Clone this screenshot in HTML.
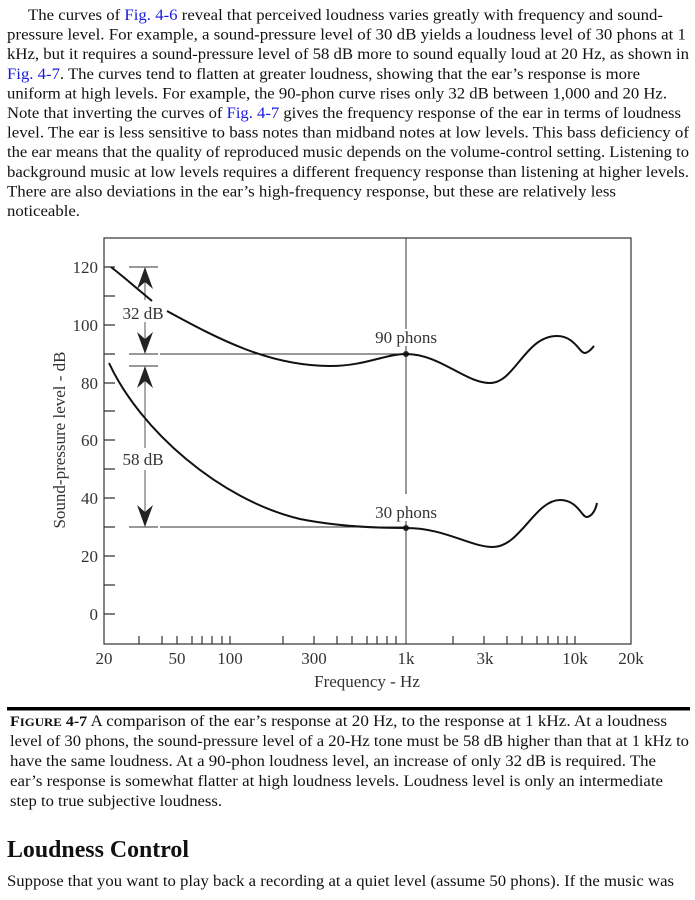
<!DOCTYPE html>
<html><head><meta charset="utf-8"><style>
html,body{margin:0;padding:0;background:#fff;}
svg{display:block;}
.t{font-family:"Liberation Serif",serif;font-size:16px;fill:#111;}
.b{fill:#1a1adb;}
.c{font-family:"Liberation Serif",serif;font-size:17px;fill:#333;}
</style></head><body>
<svg width="695" height="900" viewBox="0 0 695 900" xmlns="http://www.w3.org/2000/svg">
<g class="t">
<text x="28" y="20" textLength="635" lengthAdjust="spacingAndGlyphs">The curves of <tspan class="b">Fig. 4-6</tspan> reveal that perceived loudness varies greatly with frequency and sound-</text>
<text x="7" y="39.6" textLength="679" lengthAdjust="spacingAndGlyphs">pressure level. For example, a sound-pressure level of 30 dB yields a loudness level of 30 phons at 1</text>
<text x="7" y="59.2" textLength="682" lengthAdjust="spacingAndGlyphs">kHz, but it requires a sound-pressure level of 58 dB more to sound equally loud at 20 Hz, as shown in</text>
<text x="7" y="78.8" textLength="633" lengthAdjust="spacingAndGlyphs"><tspan class="b">Fig. 4-7</tspan>. The curves tend to flatten at greater loudness, showing that the ear’s response is more</text>
<text x="7" y="98.4" textLength="660" lengthAdjust="spacingAndGlyphs">uniform at high levels. For example, the 90-phon curve rises only 32 dB between 1,000 and 20 Hz.</text>
<text x="7" y="118" textLength="674" lengthAdjust="spacingAndGlyphs">Note that inverting the curves of <tspan class="b">Fig. 4-7</tspan> gives the frequency response of the ear in terms of loudness</text>
<text x="7" y="137.6" textLength="682" lengthAdjust="spacingAndGlyphs">level. The ear is less sensitive to bass notes than midband notes at low levels. This bass deficiency of</text>
<text x="7" y="157.2" textLength="682" lengthAdjust="spacingAndGlyphs">the ear means that the quality of reproduced music depends on the volume-control setting. Listening to</text>
<text x="7" y="176.8" textLength="682" lengthAdjust="spacingAndGlyphs">background music at low levels requires a different frequency response than listening at higher levels.</text>
<text x="7" y="196.4" textLength="609" lengthAdjust="spacingAndGlyphs">There are also deviations in the ear’s high-frequency response, but these are relatively less</text>
<text x="7" y="216" textLength="73" lengthAdjust="spacingAndGlyphs">noticeable.</text>
</g>

<g stroke="#333" fill="none" stroke-width="1.2">
<rect x="104" y="238" width="527" height="406"/>
<path d="M104 267H115M104 296H115M104 325H115M104 354H115M104 383H115M104 411H115M104 440H115M104 469H115M104 498H115M104 527H115M104 556H115M104 585H115M104 614H115"/>
<path d="M139 644v-8M162 644v-8M177 644v-8M192 644v-8M202 644v-8M212 644v-8M222 644v-8M230 644v-8M283 644v-8M314 644v-8M337 644v-8M352 644v-8M367 644v-8M377 644v-8M387 644v-8M396 644v-8M453 644v-8M484 644v-8M507 644v-8M522 644v-8M537 644v-8M548 644v-8M558 644v-8M567 644v-8M575 644v-8"/>
<path d="M406 238V329M406 346V494M406 521V644" stroke-width="1"/>
<path d="M129 354H158M160 354H406M129 527H158M160 527H406M129 267H158M129 366H158" stroke-width="1"/>
<path d="M145 282V300M145 322V340M145 380V448M145 470V512" stroke="#555" stroke-width="1"/>
</g>
<g fill="#222">
<path d="M145 267 L137 289 L145 282 L153 289 Z"/>
<path d="M145 354 L137 332 L145 339 L153 332 Z"/>
<path d="M145 366 L137 388 L145 381 L153 388 Z"/>
<path d="M145 527 L137 505 L145 512 L153 505 Z"/>
<circle cx="406" cy="354" r="3"/>
<circle cx="406" cy="528" r="3"/>
</g>
<g stroke="#111" fill="none" stroke-width="2">
<path d="M111 267 C125 278 140 291 152 301"/>
<path d="M167 311 C220 340 270 366 330 366 C365 366 385 354 406 354 C440 354 465 383 490 383 C515 383 525 336 557 336 C575 336 580 354 585 353 C590 352 592 348 594 346"/>
<path d="M109 363 C140 430 220 500 300 519 C340 527 380 528 406 528 C445 528 470 547 493 547 C520 547 535 500 560 500 C578 500 582 518 587 517 C593 516 596 508 597 503"/>
</g>
<g class="c">
<text x="98" y="273" text-anchor="end">120</text>
<text x="98" y="331" text-anchor="end">100</text>
<text x="98" y="389" text-anchor="end">80</text>
<text x="98" y="446" text-anchor="end">60</text>
<text x="98" y="504" text-anchor="end">40</text>
<text x="98" y="562" text-anchor="end">20</text>
<text x="98" y="620" text-anchor="end">0</text>
<text x="104" y="664" text-anchor="middle">20</text>
<text x="177" y="664" text-anchor="middle">50</text>
<text x="230" y="664" text-anchor="middle">100</text>
<text x="314" y="664" text-anchor="middle">300</text>
<text x="406" y="664" text-anchor="middle">1k</text>
<text x="485" y="664" text-anchor="middle">3k</text>
<text x="575" y="664" text-anchor="middle">10k</text>
<text x="631" y="664" text-anchor="middle">20k</text>
<text x="367" y="687" text-anchor="middle">Frequency - Hz</text>
<text x="406" y="343" text-anchor="middle">90 phons</text>
<text x="406" y="518" text-anchor="middle">30 phons</text>
<text x="143" y="319" text-anchor="middle">32 dB</text>
<text x="143" y="465" text-anchor="middle">58 dB</text>
<text transform="translate(65 440) rotate(-90)" text-anchor="middle">Sound-pressure level - dB</text>
</g>

<rect x="7" y="707" width="683" height="3.5" fill="#000"/>
<g class="t">
<text x="10" y="726" textLength="657" lengthAdjust="spacingAndGlyphs"><tspan font-weight="bold" font-size="15">F<tspan font-size="12">IGURE</tspan> 4-7</tspan>   A comparison of the ear’s response at 20 Hz, to the response at 1 kHz. At a loudness</text>
<text x="10" y="746" textLength="679" lengthAdjust="spacingAndGlyphs">level of 30 phons, the sound-pressure level of a 20-Hz tone must be 58 dB higher than that at 1 kHz to</text>
<text x="10" y="766" textLength="646" lengthAdjust="spacingAndGlyphs">have the same loudness. At a 90-phon loudness level, an increase of only 32 dB is required. The</text>
<text x="10" y="786" textLength="653" lengthAdjust="spacingAndGlyphs">ear’s response is somewhat flatter at high loudness levels. Loudness level is only an intermediate</text>
<text x="10" y="806" textLength="212" lengthAdjust="spacingAndGlyphs">step to true subjective loudness.</text>
<text x="7" y="857" font-size="24" font-weight="bold" textLength="182" lengthAdjust="spacingAndGlyphs">Loudness Control</text>
<text x="7" y="886" textLength="667" lengthAdjust="spacingAndGlyphs">Suppose that you want to play back a recording at a quiet level (assume 50 phons). If the music was</text>
</g>
</svg>
</body></html>
